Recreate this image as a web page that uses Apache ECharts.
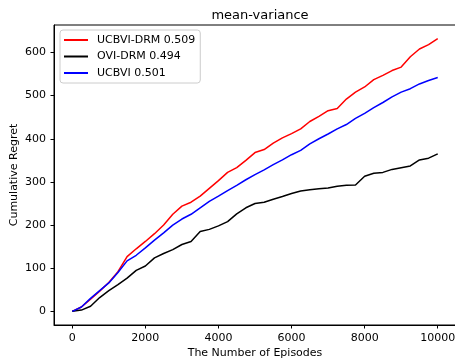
<!DOCTYPE html>
<html>
<head>
<meta charset="utf-8">
<script src="https://cdn.jsdelivr.net/npm/echarts@6/dist/echarts.min.js"></script>
<style>
  html, body { margin: 0; padding: 0; background: #fff; }
  #main { width: 455px; height: 360px; }
</style>
</head>
<body>
<div id="main"></div>
<script>
// episodes sampled every 250
var episodes = [0, 250, 500, 750, 1000, 1250, 1500, 1750, 2000, 2250, 2500, 2750, 3000, 3250, 3500, 3750, 4000,
  4250, 4500, 4750, 5000, 5250, 5500, 5750, 6000, 6250, 6500, 6750, 7000, 7250, 7500, 7750, 8000,
  8250, 8500, 8750, 9000, 9250, 9500, 9750, 10000];

var ucbviDrm = [0, 10, 28, 47, 67, 92, 127, 145, 162, 180, 200, 225, 244, 253, 267, 285, 303,
  322, 333, 350, 368, 375, 390, 402, 412, 423, 440, 452, 465, 470, 492, 508, 520,
  537, 547, 558, 566, 590, 608, 618, 632];

var oviDrm = [0, 3, 12, 32, 48, 62, 77, 95, 105, 124, 134, 143, 155, 162, 185, 190, 198,
  208, 226, 240, 250, 253, 260, 266, 273, 279, 282, 284, 286, 290, 292, 293, 313,
  320, 322, 329, 333, 337, 351, 355, 365];

var ucbvi = [0, 10, 30, 48, 66, 90, 117, 130, 147, 165, 182, 200, 214, 225, 240, 255, 267,
  280, 292, 305, 317, 328, 340, 351, 363, 373, 388, 400, 411, 423, 433, 447, 459,
  472, 484, 497, 508, 516, 527, 535, 542];

var seriesNames = ['UCBVI-DRM 0.509', 'OVI-DRM 0.494', 'UCBVI 0.501'];
var seriesColors = ['#ff0000', '#000000', '#0000ff'];
var xTicks = [0, 2000, 4000, 6000, 8000, 10000];
var yTicks = [0, 100, 200, 300, 400, 500, 600];

function pairs(ys) {
  return episodes.map(function (x, i) { return [x, ys[i]]; });
}

var font = 'DejaVu Sans';
var myChart = echarts.init(document.getElementById('main'));

var option = {
  animation: false,
  title: {
    text: 'mean-variance', left: 255, top: 4, textAlign: 'center',
    textStyle: { fontFamily: font, fontSize: 13, fontWeight: 'normal', color: '#000' }
  },
  legend: {
    orient: 'vertical', left: 60, top: 30, padding: [4, 5, 4, 4],
    itemWidth: 24, itemHeight: 2, itemGap: 4.5, icon: 'rect',
    backgroundColor: '#fff', borderColor: '#cccccc', borderWidth: 1, borderRadius: 3,
    textStyle: { fontFamily: font, fontSize: 11, color: '#000', lineHeight: 12, padding: [0, 0, 0, 4] },
    data: seriesNames
  },
  grid: {
    left: 54, top: 25, width: 402, height: 300,
    outerBoundsMode: 'none', containLabel: false,
    show: true, borderColor: '#000', borderWidth: 1
  },
  xAxis: {
    type: 'value', min: -500, max: 10500,
    name: 'The Number of Episodes', nameLocation: 'middle', nameGap: 23, nameMoveOverlap: false,
    nameTextStyle: { fontFamily: font, fontSize: 11, color: '#000' },
    axisLine: { show: true, onZero: false, lineStyle: { color: '#000' } },
    axisTick: { show: true, length: 3.5, customValues: xTicks, lineStyle: { color: '#000' } },
    axisLabel: { customValues: xTicks, formatter: function (v) { return String(v); },
      fontFamily: font, fontSize: 11, color: '#000', margin: 8, hideOverlap: false },
    splitLine: { show: false }
  },
  yAxis: {
    type: 'value', min: -31.6, max: 663.6,
    name: 'Cumulative Regret', nameLocation: 'middle', nameGap: 34, nameRotate: 90, nameMoveOverlap: false,
    nameTextStyle: { fontFamily: font, fontSize: 11, color: '#000' },
    axisLine: { show: true, onZero: false, lineStyle: { color: '#000' } },
    axisTick: { show: true, length: 3.5, customValues: yTicks, lineStyle: { color: '#000' } },
    axisLabel: { customValues: yTicks, formatter: function (v) { return String(v); },
      fontFamily: font, fontSize: 11, color: '#000', margin: 8 },
    splitLine: { show: false }
  },
  series: [ucbviDrm, oviDrm, ucbvi].map(function (ys, i) {
    return {
      name: seriesNames[i], type: 'line', data: pairs(ys),
      showSymbol: false, symbol: 'none',
      itemStyle: { color: seriesColors[i] },
      lineStyle: { color: seriesColors[i], width: 1.5 }
    };
  })
};

myChart.setOption(option);
</script>
</body>
</html>
